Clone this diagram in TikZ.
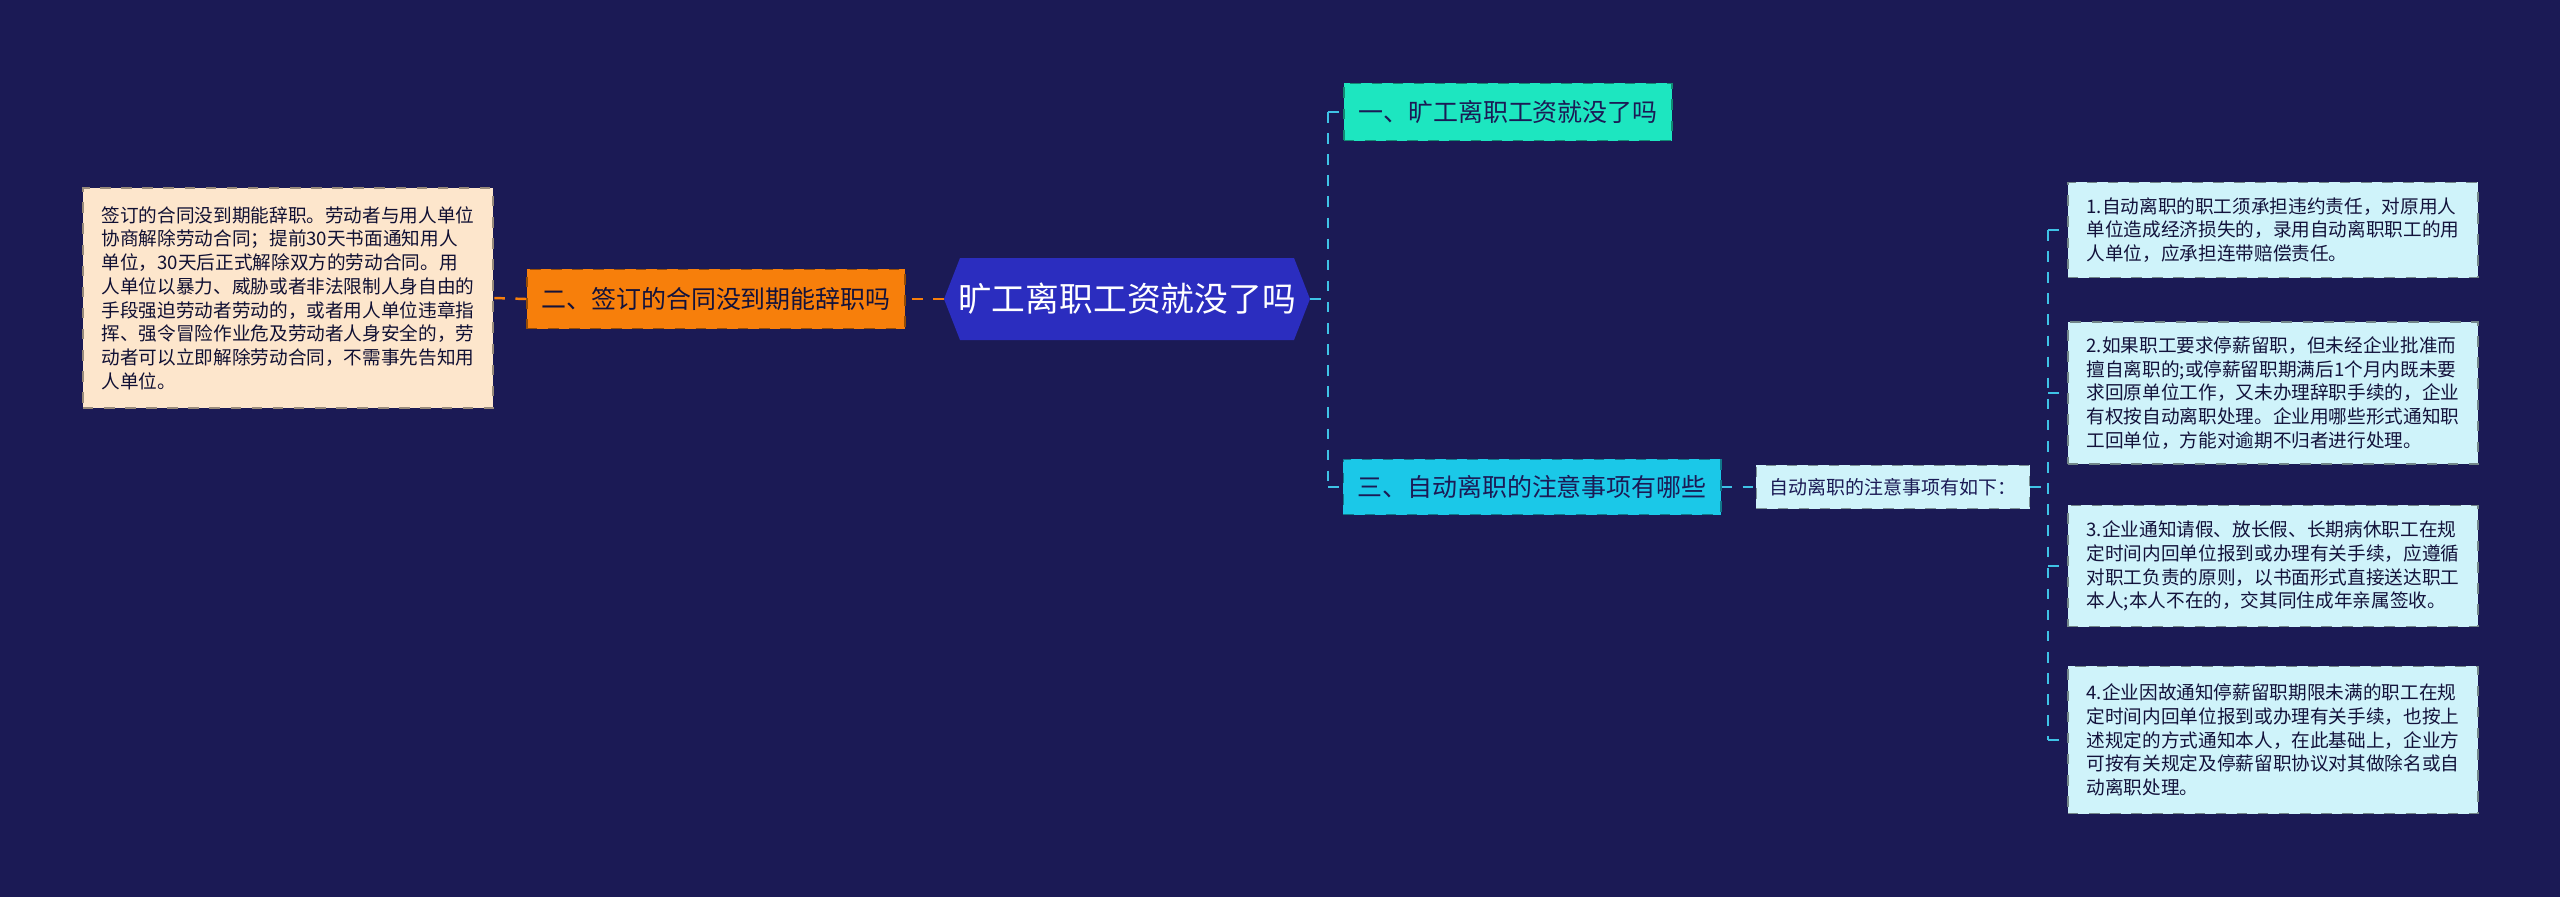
\documentclass[tikz,border=0pt]{standalone}
\usepackage{fontspec}
\setmainfont{Noto Sans CJK SC}
\begin{document}
\begin{tikzpicture}[x=0.01cm,y=-0.01cm,
  box/.style={draw, dashed, line width=0.5pt, inner sep=0pt, align=left, anchor=north west},
  conn/.style={dashed, line width=0.7pt}]
\definecolor{bg}{HTML}{1B1A55}
\definecolor{cen}{HTML}{2B2DBF}
\definecolor{org}{HTML}{F77F0B}
\definecolor{peach}{HTML}{FDE6CC}
\definecolor{teal}{HTML}{1DE6C0}
\definecolor{cyanb}{HTML}{1BC8E8}
\definecolor{lightc}{HTML}{CFF3FA}
\definecolor{lc}{HTML}{3FC3E6}
\fill[bg] (0,0) rectangle (2560,897);
% center hexagon
\fill[cen] (960,258) -- (1294,258) -- (1310,299) -- (1294,340) -- (960,340) -- (944,299) -- cycle;
\node[text=white, font=\fontsize{9.6pt}{11pt}\selectfont] (c) at (1127,299) {旷工离职工资就没了吗};
\coordinate (cl) at (944,299);
\coordinate (cr) at (1310,299);
% left
\node[box, draw=org!60!black, fill=org, minimum width=3.78cm, minimum height=0.59cm, align=center, anchor=center, text=bg!70!black, font=\fontsize{7.1pt}{8.5pt}\selectfont] (o) at (716,299) {二、签订的合同没到期能辞职吗};
\node[box, draw=peach!60!black, fill=peach, minimum width=4.10cm, minimum height=2.20cm, inner xsep=0.1cm, anchor=center, text=bg!60!black, font=\fontsize{5.3pt}{6.75pt}\selectfont] (lb) at (288,298) {签订的合同没到期能辞职。劳动者与用人单位\\协商解除劳动合同；提前30天书面通知用人\\单位，30天后正式解除双方的劳动合同。用\\人单位以暴力、威胁或者非法限制人身自由的\\手段强迫劳动者劳动的，或者用人单位违章指\\挥、强令冒险作业危及劳动者人身安全的，劳\\动者可以立即解除劳动合同，不需事先告知用\\人单位。};
\draw[conn, org] (cl) -- (o.east);
\draw[conn, org] (o.west) -- (lb.east);
% right
\node[box, draw=teal!60!black, fill=teal, minimum width=3.28cm, minimum height=0.57cm, align=center, anchor=center, text=bg, font=\fontsize{7.1pt}{8.5pt}\selectfont] (t1) at (1508,112) {一、旷工离职工资就没了吗};
\node[box, draw=cyanb!60!black, fill=cyanb, minimum width=3.77cm, minimum height=0.55cm, align=center, anchor=center, text=bg, font=\fontsize{7.1pt}{8.5pt}\selectfont] (t3) at (1532,487) {三、自动离职的注意事项有哪些};
\node[box, draw=lightc!60!black, fill=lightc, minimum width=2.73cm, minimum height=0.43cm, align=center, anchor=center, text=bg, font=\fontsize{5.4pt}{6.5pt}\selectfont] (s) at (1893,487) {自动离职的注意事项有如下：};
\coordinate (bus) at (1328,299);
\draw[conn, lc] (cr) -- (bus);
\draw[conn, lc] (bus |- t1.west) -- (bus |- t3.west);
\draw[conn, lc] (bus |- t1.west) -- (t1.west);
\draw[conn, lc] (bus |- t3.west) -- (t3.west);
\draw[conn, lc] (t3.east) -- (s.west);
\tikzset{rb/.style={box, draw=lightc!55!black, fill=lightc, minimum width=4.10cm, anchor=west, text=bg!70!black, font=\fontsize{5.3pt}{6.75pt}\selectfont, inner xsep=0.1cm}}
\node[rb, minimum height=0.95cm] (r1) at (2067,230) {1.自动离职的职工须承担违约责任，对原用人\\单位造成经济损失的，录用自动离职职工的用\\人单位，应承担连带赔偿责任。};
\node[rb, minimum height=1.42cm] (r2) at (2067,393) {2.如果职工要求停薪留职，但未经企业批准而\\擅自离职的;或停薪留职期满后1个月内既未要\\求回原单位工作，又未办理辞职手续的，企业\\有权按自动离职处理。企业用哪些形式通知职\\工回单位，方能对逾期不归者进行处理。};
\node[rb, minimum height=1.21cm] (r3) at (2067,566) {3.企业通知请假、放长假、长期病休职工在规\\定时间内回单位报到或办理有关手续，应遵循\\对职工负责的原则，以书面形式直接送达职工\\本人;本人不在的，交其同住成年亲属签收。};
\node[rb, minimum height=1.47cm] (r4) at (2067,740) {4.企业因故通知停薪留职期限未满的职工在规\\定时间内回单位报到或办理有关手续，也按上\\述规定的方式通知本人，在此基础上，企业方\\可按有关规定及停薪留职协议对其做除名或自\\动离职处理。};
\coordinate (bus2) at (2048,487);
\draw[conn, lc] (s.east) -- (bus2);
\draw[conn, lc] (bus2 |- r1.west) -- (bus2 |- r4.west);
\foreach \r in {r1,r2,r3,r4} \draw[conn, lc] (bus2 |- \r.west) -- (\r.west);
\end{tikzpicture}
\end{document}
